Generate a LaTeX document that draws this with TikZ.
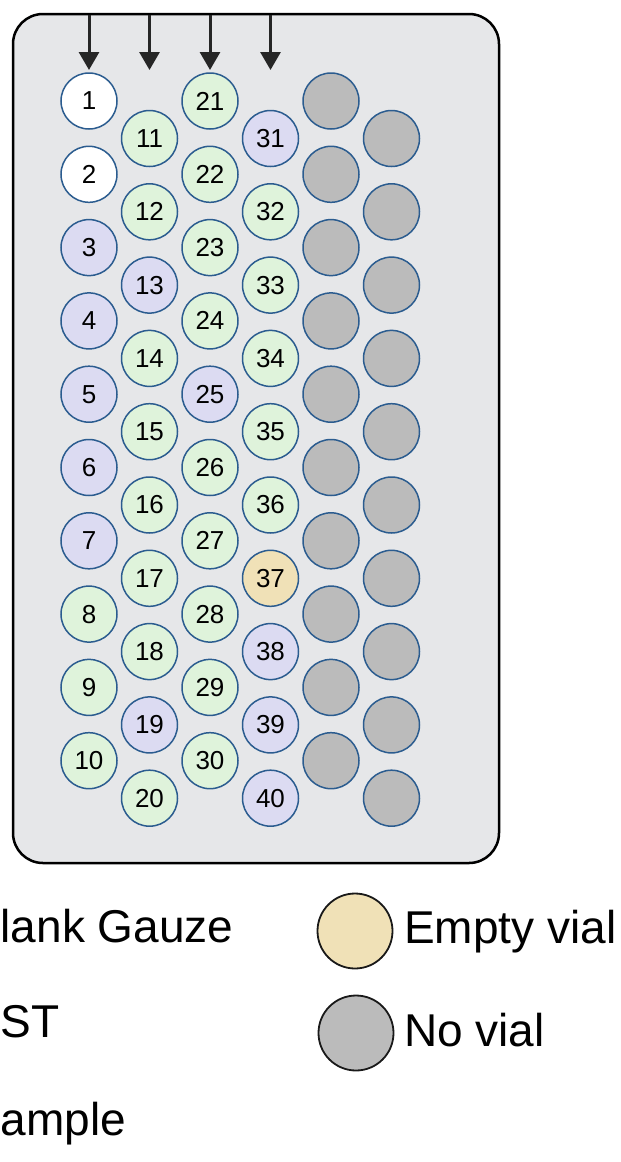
\documentclass[tikz,border=0pt]{standalone}
\usepackage{fontspec}
\setmainfont{Liberation Sans}
\usetikzlibrary{arrows.meta}
\definecolor{platebg}{HTML}{E6E7E9}
\definecolor{vialedge}{HTML}{2B5C8F}
\definecolor{lav}{HTML}{DCDBF2}
\definecolor{grn}{HTML}{DFF3DB}
\definecolor{tan}{HTML}{F0E1B7}
\definecolor{novial}{HTML}{BBBBBB}
\definecolor{arrowc}{HTML}{262626}
\begin{document}
\begin{tikzpicture}[x=1pt,y=-1pt,
  plate/.style={draw=black, line width=2.5pt, fill=platebg, rounded corners=30pt},
  vial/.style={circle, draw=vialedge, line width=1.5pt, minimum size=56pt, inner sep=0pt, font=\fontsize{26}{26}\selectfont},
  fblank/.style={fill=white},
  fist/.style={fill=lav},
  fsmp/.style={fill=grn},
  fempty/.style={fill=tan},
  fnone/.style={fill=novial},
  legc/.style={circle, draw=black!90, line width=1.8pt, minimum size=75pt, inner sep=0pt},
  legt/.style={font=\fontsize{46}{46}\selectfont, inner sep=0pt},
  arr/.style={draw=arrowc, line width=3pt, -{Triangle[width=20pt,length=18pt]}}
]
\useasboundingbox (0,0) rectangle (621,1162);
\clip (0,0) rectangle (621,1162);
\draw[plate] (13,14) rectangle (499,863);
\foreach \n/\f in {1/fblank,2/fblank,3/fist,4/fist,5/fist,6/fist,7/fist,8/fsmp,9/fsmp,10/fsmp,
  11/fsmp,12/fsmp,13/fist,14/fsmp,15/fsmp,16/fsmp,17/fsmp,18/fsmp,19/fist,20/fsmp,
  21/fsmp,22/fsmp,23/fsmp,24/fsmp,25/fist,26/fsmp,27/fsmp,28/fsmp,29/fsmp,30/fsmp,
  31/fist,32/fsmp,33/fsmp,34/fsmp,35/fsmp,36/fsmp,37/fempty,38/fist,39/fist,40/fist}{
  \pgfmathtruncatemacro\c{(\n-1)/10}
  \pgfmathtruncatemacro\r{mod(\n-1,10)}
  \pgfmathsetmacro\xx{89+60.5*\c}
  \pgfmathsetmacro\yy{101+73.3*\r+37.5*mod(\c,2)}
  \node[vial,\f] (v\n) at (\xx,\yy) {\n};
}
\foreach \i in {0,...,9}{
  \node[vial,fnone] (g\i) at ({331},{101+73.3*\i}) {};
  \node[vial,fnone] (h\i) at ({391.5},{138.5+73.3*\i}) {};
}
\foreach \k/\x in {1/89,2/149.5,3/210,4/270.5}{
  \coordinate (t\k) at (\x,15);
  \coordinate (b\k) at (\x,70);
  \draw[arr] (t\k) -- (b\k);
}
\node[legt, anchor=base west] (lblank) at (0.5,942) {lank Gauze};
\node[legt, anchor=base west] (list) at (0.5,1037) {ST};
\node[legt, anchor=base west] (lsmp) at (0.5,1135) {ample};
\node[legc, fill=tan] (le) at (355,931) {};
\node[legc, fill=novial] (ln) at (356,1033) {};
\node[legt, anchor=base west] (lte) at (404,943) {Empty vial};
\node[legt, anchor=base west] (ltn) at (404,1046) {No vial};
\end{tikzpicture}
\end{document}
